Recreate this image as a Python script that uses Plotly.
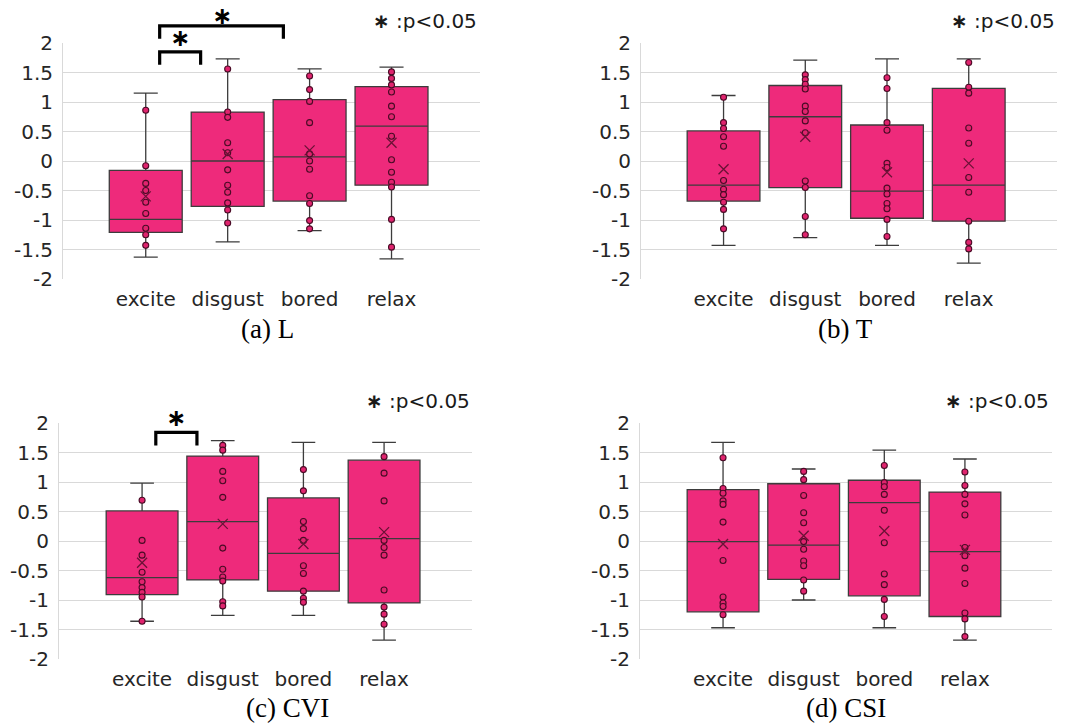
import plotly.graph_objects as go

categories = ["excite", "disgust", "bored", "relax"]
cat_pos = [1, 2, 3, 4]
panel_titles = ["(a) L", "(b) T", "(c) CVI", "(d) CSI"]
ytick_vals = [-2, -1.5, -1, -0.5, 0, 0.5, 1, 1.5, 2]
ytick_text = ["-2", "-1.5", "-1", "-0.5", "0", "0.5", "1", "1.5", "2"]

# ---- (a) L ----
L_q1 = [-1.21, -0.77, -0.68, -0.41]
L_med = [-0.99, 0.00, 0.07, 0.59]
L_q3 = [-0.16, 0.83, 1.04, 1.26]
L_lo = [-1.63, -1.37, -1.18, -1.66]
L_hi = [1.15, 1.73, 1.56, 1.59]
L_mean = [-0.60, 0.12, 0.18, 0.31]
L_pts = [
    [0.86, -0.08, -0.38, -0.50, -0.70, -0.89, -1.14, -1.25, -1.43],
    [1.56, 0.83, 0.74, 0.31, 0.14, -0.15, -0.41, -0.53, -0.71, -0.83, -1.05],
    [1.44, 1.21, 1.01, 0.65, 0.12, 0.00, -0.14, -0.59, -0.72, -1.01, -1.15],
    [1.51, 1.40, 1.29, 1.17, 0.93, 0.75, 0.42, 0.02, -0.19, -0.36, -0.44, -0.99, -1.46],
]

# ---- (b) T ----
T_q1 = [-0.68, -0.45, -0.97, -1.02]
T_med = [-0.41, 0.75, -0.51, -0.41]
T_q3 = [0.51, 1.28, 0.61, 1.23]
T_lo = [-1.43, -1.30, -1.43, -1.73]
T_hi = [1.11, 1.71, 1.73, 1.73]
T_mean = [-0.14, 0.41, -0.19, -0.04]
T_pts = [
    [1.08, 0.65, 0.55, 0.41, 0.25, -0.33, -0.48, -0.57, -0.70, -0.82, -1.15],
    [1.46, 1.38, 1.30, 1.22, 0.93, 0.84, 0.68, 0.48, -0.34, -0.45, -0.94, -1.25],
    [1.41, 1.23, 0.65, 0.52, -0.04, -0.11, -0.46, -0.56, -0.72, -0.81, -0.99, -1.28],
    [1.67, 1.25, 1.15, 0.56, 0.30, -0.28, -0.53, -1.02, -1.38, -1.49],
]

# ---- (c) CVI ----
CVI_q1 = [-0.91, -0.66, -0.85, -1.05]
CVI_med = [-0.62, 0.33, -0.21, 0.04]
CVI_q3 = [0.51, 1.44, 0.73, 1.37]
CVI_lo = [-1.36, -1.26, -1.26, -1.68]
CVI_hi = [0.98, 1.70, 1.67, 1.67]
CVI_mean = [-0.37, 0.29, -0.05, 0.15]
CVI_pts = [
    [0.69, 0.01, -0.24, -0.53, -0.69, -0.79, -0.87, -0.95, -1.36],
    [1.62, 1.54, 1.18, 1.02, 0.74, -0.12, -0.48, -0.61, -0.68, -1.03, -1.10],
    [1.21, 0.85, 0.33, 0.21, 0.01, -0.42, -0.55, -0.85, -0.97, -1.04],
    [1.43, 1.15, 0.68, 0.01, -0.11, -0.24, -0.83, -1.12, -1.24, -1.41],
]

# ---- (d) CSI ----
CSI_q1 = [-1.20, -0.65, -0.93, -1.28]
CSI_med = [-0.01, -0.07, 0.65, -0.18]
CSI_q3 = [0.87, 0.97, 1.03, 0.83]
CSI_lo = [-1.47, -1.00, -1.47, -1.68]
CSI_hi = [1.67, 1.22, 1.54, 1.39]
CSI_mean = [-0.05, 0.09, 0.17, -0.15]
CSI_pts = [
    [1.41, 0.89, 0.81, 0.68, 0.62, 0.32, -0.33, -0.95, -1.05, -1.11, -1.25],
    [1.18, 1.04, 0.77, 0.48, 0.31, -0.01, -0.14, -0.34, -0.42, -0.66, -0.85],
    [1.28, 0.99, 0.92, 0.79, 0.52, -0.03, -0.56, -0.74, -0.99, -1.28],
    [1.17, 0.94, 0.79, 0.63, 0.44, -0.11, -0.25, -0.46, -0.72, -1.22, -1.32, -1.62],
]

panels = [
    (L_q1, L_med, L_q3, L_lo, L_hi, L_mean, L_pts),
    (T_q1, T_med, T_q3, T_lo, T_hi, T_mean, T_pts),
    (CVI_q1, CVI_med, CVI_q3, CVI_lo, CVI_hi, CVI_mean, CVI_pts),
    (CSI_q1, CSI_med, CSI_q3, CSI_lo, CSI_hi, CSI_mean, CSI_pts),
]

# significance brackets: (panel index, x_start, x_end, bottom y, top y, star x, star y)
brackets = [
    (0, 1.17, 1.67, 1.63, 1.85, 1.42, 2.09),
    (0, 1.17, 2.68, 2.07, 2.29, 1.93, 2.46),
    (2, 1.17, 1.68, 1.62, 1.84, 1.42, 2.09),
]

W, H = 1067, 724
# plot-area pixel boxes (left, right, top, bottom)
areas = [(63, 480, 43, 279), (641, 1057, 43, 279), (59, 472, 423, 659), (640, 1052, 423, 659)]
xranges = [(-0.01, 5.08), (-0.01, 5.08), (-0.03, 5.09), (-0.03, 5.08)]
title_pos = [(267, 329), (845, 329), (287, 708), (846, 708)]
pnote_pos = [(479, 21), (1057, 21), (472, 401), (1051, 401)]

BOX_FILL = "#EE2A7B"
BOX_LINE = "#3c3c3c"
PT_FILL = "#E0246E"
PT_LINE = "#4a0b26"
MEAN_COL = "#6b1236"
FONT = "DejaVu Sans, Arial, sans-serif"
SERIF = "Liberation Serif, Times New Roman, serif"

fig = go.Figure()
layout = dict(
    width=W, height=H, autosize=False,
    margin=dict(l=0, r=0, t=0, b=0, autoexpand=False),
    paper_bgcolor="white", plot_bgcolor="white",
    showlegend=False,
)
annotations = []
shapes = []

for i, (q1, med, q3, lo, hi, mean, pts) in enumerate(panels):
    n = i + 1
    xa = "x" if n == 1 else f"x{n}"
    ya = "y" if n == 1 else f"y{n}"
    fig.add_trace(go.Box(
        x=cat_pos, q1=q1, median=med, q3=q3, lowerfence=lo, upperfence=hi,
        xaxis=xa, yaxis=ya, boxpoints=False, width=0.89, whiskerwidth=0.33,
        fillcolor=BOX_FILL, line=dict(color=BOX_LINE, width=1.3),
        hoverinfo="skip",
    ))
    px, py = [], []
    for c, vals in zip(cat_pos, pts):
        px += [c] * len(vals)
        py += vals
    fig.add_trace(go.Scatter(
        x=px, y=py, mode="markers", xaxis=xa, yaxis=ya,
        marker=dict(symbol="circle", size=6, color=PT_FILL, line=dict(color=PT_LINE, width=1.1)),
        hoverinfo="skip", cliponaxis=False,
    ))
    fig.add_trace(go.Scatter(
        x=cat_pos, y=mean, mode="markers", xaxis=xa, yaxis=ya,
        marker=dict(symbol="x-thin", size=10, color=MEAN_COL, line=dict(color=MEAN_COL, width=1.3)),
        hoverinfo="skip", cliponaxis=False,
    ))
    l, r, t, b = areas[i]
    xk = "xaxis" if n == 1 else f"xaxis{n}"
    yk = "yaxis" if n == 1 else f"yaxis{n}"
    layout[xk] = dict(
        domain=[l / W, r / W], anchor=ya, range=list(xranges[i]), automargin=False,
        tickvals=cat_pos, ticktext=categories, showgrid=False, zeroline=False,
        showline=False, ticks="outside", ticklen=2, tickcolor="rgba(0,0,0,0)",
        tickfont=dict(family=FONT, size=20, color="#262626"),
    )
    layout[yk] = dict(
        domain=[1 - b / H, 1 - t / H], anchor=xa, range=[-2, 2], automargin=False,
        tickvals=ytick_vals, ticktext=ytick_text, showgrid=True, gridcolor="#d9d9d9",
        gridwidth=1, zeroline=False, showline=True, linecolor="#d9d9d9", linewidth=1,
        ticks="outside", ticklen=5, tickcolor="rgba(0,0,0,0)",
        tickfont=dict(family=FONT, size=20, color="#262626"),
    )
    tx, ty = title_pos[i]
    annotations.append(dict(
        text=panel_titles[i], x=tx / W, y=1 - ty / H, xref="paper", yref="paper",
        xanchor="center", yanchor="middle", showarrow=False,
        font=dict(family=SERIF, size=27, color="black"),
    ))
    nx, ny = pnote_pos[i]
    annotations.append(dict(
        text="<b>∗</b> :p<0.05", x=nx / W, y=1 - ny / H, xref="paper", yref="paper",
        xanchor="right", yanchor="middle", showarrow=False,
        font=dict(family=FONT, size=20, color="#1a1a1a"),
    ))

for (pi, x0, x1, yb, yt, sx, sy) in brackets:
    n = pi + 1
    xa = "x" if n == 1 else f"x{n}"
    yd = ("y" if n == 1 else f"y{n}") + " domain"
    f = lambda v: (v + 2) / 4
    shapes.append(dict(
        type="path", xref=xa, yref=yd,
        path=f"M {x0},{f(yb)} L {x0},{f(yt)} L {x1},{f(yt)} L {x1},{f(yb)}",
        line=dict(color="black", width=3.2), layer="above",
    ))
    annotations.append(dict(
        text="<b>∗</b>", x=sx, y=f(sy), xref=xa, yref=yd,
        xanchor="center", yanchor="middle", showarrow=False,
        font=dict(family=FONT, size=24, color="black"),
    ))

layout["annotations"] = annotations
layout["shapes"] = shapes
fig.update_layout(**layout)
fig.write_html(
    "out.html",
    config={"displayModeBar": False},
    post_script="document.body.style.margin='0';document.body.style.overflow='hidden';",
)
